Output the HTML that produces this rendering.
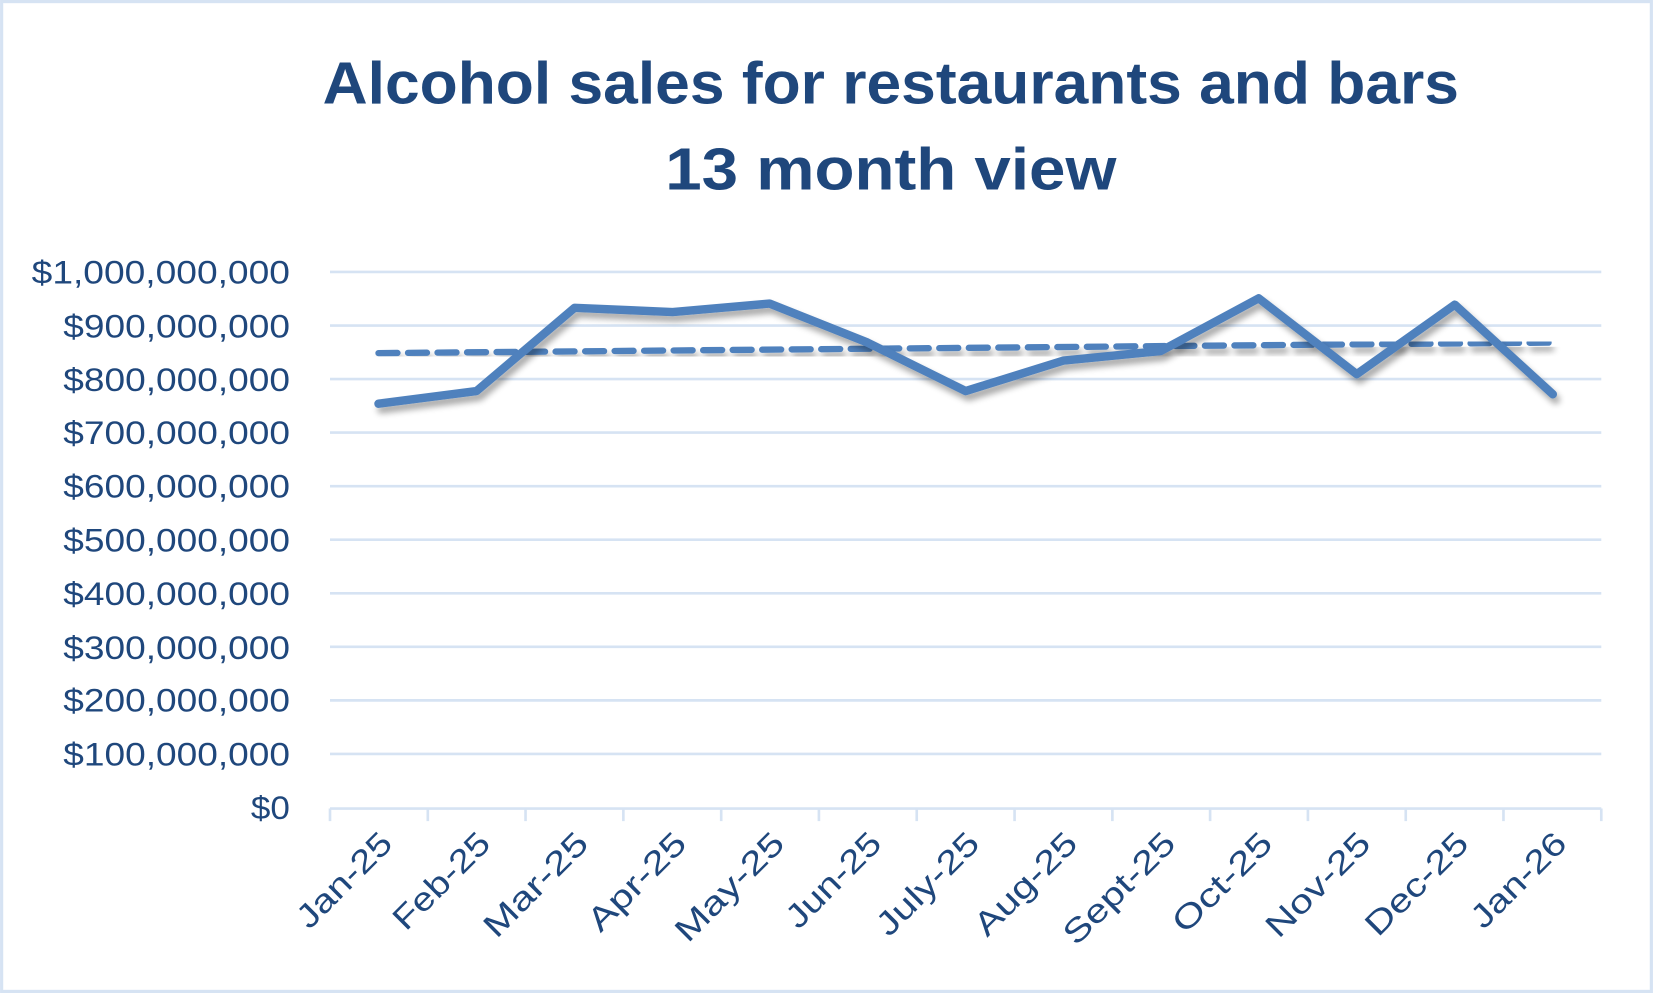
<!DOCTYPE html>
<html><head><meta charset="utf-8"><style>html,body{margin:0;padding:0;background:#fff}svg{display:block}</style></head><body>
<svg width="1653" height="993" viewBox="0 0 1568 942" xmlns="http://www.w3.org/2000/svg" font-family="Liberation Sans, sans-serif">
<defs><filter id="sh" x="-10%" y="-10%" width="120%" height="140%"><feGaussianBlur in="SourceAlpha" stdDeviation="3"/><feOffset dx="3" dy="5"/><feComponentTransfer><feFuncA type="linear" slope="0.35"/></feComponentTransfer><feMerge><feMergeNode/><feMergeNode in="SourceGraphic"/></feMerge></filter></defs>
<rect x="1.5" y="1.5" width="1565" height="939" fill="#fff" stroke="#d6e3f3" stroke-width="3"/>
<g fill="#1f477c" font-weight="bold" text-anchor="middle" font-size="56">
<text x="845" y="98" textLength="1078" lengthAdjust="spacingAndGlyphs">Alcohol sales for restaurants and bars</text>
<text x="845" y="180" textLength="428" lengthAdjust="spacingAndGlyphs">13 month view</text>
</g>
<g stroke="#d6e3f3" stroke-width="2.5">
<line x1="313" x2="1519" y1="258" y2="258"/><line x1="313" x2="1519" y1="308.8" y2="308.8"/><line x1="313" x2="1519" y1="359.6" y2="359.6"/><line x1="313" x2="1519" y1="410.4" y2="410.4"/><line x1="313" x2="1519" y1="461.2" y2="461.2"/><line x1="313" x2="1519" y1="512" y2="512"/><line x1="313" x2="1519" y1="562.8" y2="562.8"/><line x1="313" x2="1519" y1="613.6" y2="613.6"/><line x1="313" x2="1519" y1="664.4" y2="664.4"/><line x1="313" x2="1519" y1="715.2" y2="715.2"/><line x1="313" x2="1519" y1="767" y2="767"/>
<path d="M313 767v12M405.8 767v12M498.5 767v12M591.3 767v12M684.1 767v12M776.8 767v12M869.6 767v12M962.4 767v12M1055.2 767v12M1147.9 767v12M1240.7 767v12M1333.5 767v12M1426.2 767v12M1519 767v12"/>
</g>
<g fill="#1f477c" font-size="31" text-anchor="end">
<text x="275" y="269" textLength="245" lengthAdjust="spacingAndGlyphs">$1,000,000,000</text>
<text x="275" y="320" textLength="215" lengthAdjust="spacingAndGlyphs">$900,000,000</text>
<text x="275" y="371" textLength="215" lengthAdjust="spacingAndGlyphs">$800,000,000</text>
<text x="275" y="421" textLength="215" lengthAdjust="spacingAndGlyphs">$700,000,000</text>
<text x="275" y="472" textLength="215" lengthAdjust="spacingAndGlyphs">$600,000,000</text>
<text x="275" y="523" textLength="215" lengthAdjust="spacingAndGlyphs">$500,000,000</text>
<text x="275" y="574" textLength="215" lengthAdjust="spacingAndGlyphs">$400,000,000</text>
<text x="275" y="625" textLength="215" lengthAdjust="spacingAndGlyphs">$300,000,000</text>
<text x="275" y="675" textLength="215" lengthAdjust="spacingAndGlyphs">$200,000,000</text>
<text x="275" y="726" textLength="215" lengthAdjust="spacingAndGlyphs">$100,000,000</text>
<text x="275" y="777" textLength="37" lengthAdjust="spacingAndGlyphs">$0</text>
</g>
<g fill="#1f477c" font-size="31" text-anchor="end">
<text transform="translate(374,802) rotate(-45)" textLength="114" lengthAdjust="spacingAndGlyphs">Jan-25</text>
<text transform="translate(467,802) rotate(-45)" textLength="116" lengthAdjust="spacingAndGlyphs">Feb-25</text>
<text transform="translate(560,802) rotate(-45)" textLength="126" lengthAdjust="spacingAndGlyphs">Mar-25</text>
<text transform="translate(653,802) rotate(-45)" textLength="118" lengthAdjust="spacingAndGlyphs">Apr-25</text>
<text transform="translate(746,802) rotate(-45)" textLength="132" lengthAdjust="spacingAndGlyphs">May-25</text>
<text transform="translate(838,802) rotate(-45)" textLength="114" lengthAdjust="spacingAndGlyphs">Jun-25</text>
<text transform="translate(931,802) rotate(-45)" textLength="124" lengthAdjust="spacingAndGlyphs">July-25</text>
<text transform="translate(1024,802) rotate(-45)" textLength="124" lengthAdjust="spacingAndGlyphs">Aug-25</text>
<text transform="translate(1117,802) rotate(-45)" textLength="136" lengthAdjust="spacingAndGlyphs">Sept-25</text>
<text transform="translate(1209,802) rotate(-45)" textLength="120" lengthAdjust="spacingAndGlyphs">Oct-25</text>
<text transform="translate(1302,802) rotate(-45)" textLength="126" lengthAdjust="spacingAndGlyphs">Nov-25</text>
<text transform="translate(1395,802) rotate(-45)" textLength="124" lengthAdjust="spacingAndGlyphs">Dec-25</text>
<text transform="translate(1488,802) rotate(-45)" textLength="114" lengthAdjust="spacingAndGlyphs">Jan-26</text>
</g>
<line x1="359" y1="335" x2="1473" y2="325" stroke="#4f81bd" stroke-width="6" stroke-dasharray="18 10" stroke-linecap="round" filter="url(#sh)"/>
<polyline fill="none" stroke="#4f81bd" stroke-width="8" stroke-linejoin="round" stroke-linecap="round" filter="url(#sh)" points="359,383 452,371 545,292 638,296 730,288 823,325 916,371 1009,342 1101,333 1194,283 1287,355 1380,289 1473,374"/>
</svg>
</body></html>
